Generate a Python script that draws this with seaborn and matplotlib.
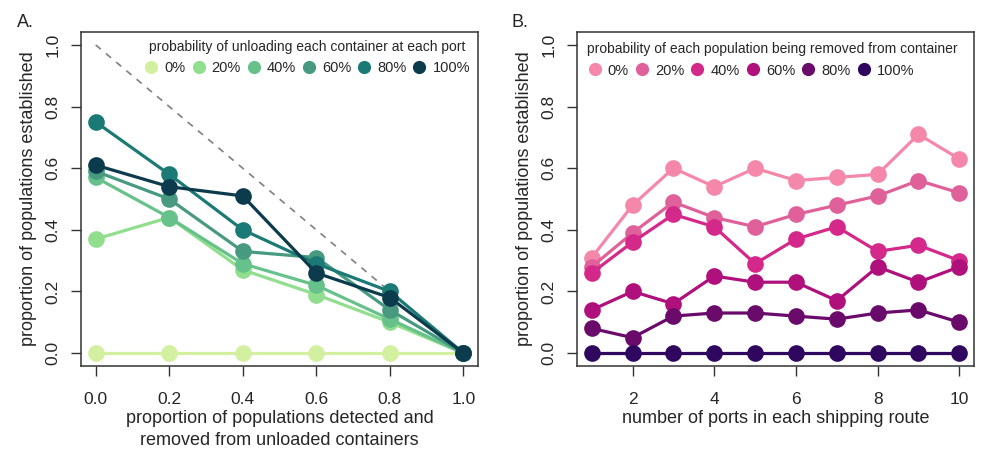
import numpy as np
import pandas as pd
import matplotlib
matplotlib.use("Agg")
import matplotlib.pyplot as plt
from matplotlib.lines import Line2D
import seaborn as sns

# ---- data ----
detect_x = [0.0, 0.2, 0.4, 0.6, 0.8, 1.0]
unload_labels = ["0%", "20%", "40%", "60%", "80%", "100%"]
unload_0 = [0.0, 0.0, 0.0, 0.0, 0.0, 0.0]
unload_20 = [0.37, 0.44, 0.27, 0.19, 0.10, 0.0]
unload_40 = [0.57, 0.44, 0.29, 0.22, 0.11, 0.0]
unload_60 = [0.59, 0.50, 0.33, 0.31, 0.14, 0.0]
unload_80 = [0.75, 0.58, 0.40, 0.29, 0.20, 0.0]
unload_100 = [0.61, 0.54, 0.51, 0.26, 0.18, 0.0]
unload_colors = ["#d2f0a0", "#90de8e", "#66c28a", "#479a80", "#1b7a75", "#0c3b4d"]

ports_x = [1, 2, 3, 4, 5, 6, 7, 8, 9, 10]
removed_labels = ["0%", "20%", "40%", "60%", "80%", "100%"]
removed_0 = [0.31, 0.48, 0.60, 0.54, 0.60, 0.56, 0.57, 0.58, 0.71, 0.63]
removed_20 = [0.28, 0.39, 0.49, 0.44, 0.41, 0.45, 0.48, 0.51, 0.56, 0.52]
removed_40 = [0.26, 0.36, 0.45, 0.41, 0.29, 0.37, 0.41, 0.33, 0.35, 0.30]
removed_60 = [0.14, 0.20, 0.16, 0.25, 0.23, 0.23, 0.17, 0.28, 0.23, 0.28]
removed_80 = [0.08, 0.05, 0.12, 0.13, 0.13, 0.12, 0.11, 0.13, 0.14, 0.10]
removed_100 = [0.0, 0.0, 0.0, 0.0, 0.0, 0.0, 0.0, 0.0, 0.0, 0.0]
removed_colors = ["#f588aa", "#e0609a", "#d4288a", "#b0107c", "#6a0a6a", "#30075e"]


def long_df(x, series, labels):
    rows = []
    for lab, vals in zip(labels, series):
        for xi, yi in zip(x, vals):
            rows.append({"x": xi, "y": yi, "group": lab})
    return pd.DataFrame(rows)


df_a = long_df(detect_x, [unload_0, unload_20, unload_40, unload_60, unload_80, unload_100], unload_labels)
df_b = long_df(ports_x, [removed_0, removed_20, removed_40, removed_60, removed_80, removed_100], removed_labels)

sns.set_style("ticks")
plt.rcParams["font.family"] = ["Liberation Sans", "DejaVu Sans"]

fig = plt.figure(figsize=(9.82, 4.55), dpi=100)
ax_a = fig.add_axes([0.0825, 0.1956, 0.4043, 0.734])
ax_b = fig.add_axes([0.5876, 0.1956, 0.4043, 0.734])

# diagonal reference line (drawn below the data)
ax_a.plot([0, 1], [1, 0], color="#808080", ls=(0, (4, 4)), lw=1.2, zorder=1)

line_kw = dict(marker="o", markersize=12, markeredgewidth=0, linewidth=2.3, legend=False)
sns.lineplot(data=df_a, x="x", y="y", hue="group", hue_order=unload_labels,
             palette=unload_colors, ax=ax_a, **line_kw)
sns.lineplot(data=df_b, x="x", y="y", hue="group", hue_order=removed_labels,
             palette=removed_colors, ax=ax_b, **line_kw)

for ax in (ax_a, ax_b):
    ax.set_ylim(-0.042, 1.042)
    ax.set_yticks([0.0, 0.2, 0.4, 0.6, 0.8, 1.0])
    ax.set_yticklabels(["0.0", "0.2", "0.4", "0.6", "0.8", "1.0"], rotation=90, va="center")
    ax.set_ylabel("proportion of populations established", fontsize=13, labelpad=6)
    ax.tick_params(axis="both", labelsize=12.5, length=7, width=1, color="#333333")
    ax.tick_params(axis="y", pad=8)
    ax.tick_params(axis="x", pad=12)
    for s in ax.spines.values():
        s.set_linewidth(1.1)
        s.set_color("#333333")
        s.set_visible(True)

ax_a.set_xlim(-0.04, 1.04)
ax_a.set_xticks(detect_x)
ax_a.set_xticklabels(["0.0", "0.2", "0.4", "0.6", "0.8", "1.0"])
ax_a.set_xlabel("proportion of populations detected and\nremoved from unloaded containers",
                fontsize=13, labelpad=2, linespacing=1.35)

ax_b.set_xlim(0.64, 10.36)
ax_b.set_xticks([2, 4, 6, 8, 10])
ax_b.set_xlabel("number of ports in each shipping route", fontsize=13, labelpad=2)

# legends with circle markers only
handles_a = [Line2D([], [], ls="none", marker="o", markersize=9.5, markeredgewidth=0, color=c)
             for c in unload_colors]
leg_a = ax_a.legend(handles_a, unload_labels, title="probability of unloading each container at each port",
                    ncol=6, loc="upper right", bbox_to_anchor=(1.0, 1.0), frameon=False,
                    fontsize=10.5, title_fontsize=10, handlelength=1.0, handletextpad=0.4,
                    columnspacing=0.38, borderaxespad=0.15)

handles_b = [Line2D([], [], ls="none", marker="o", markersize=9.5, markeredgewidth=0, color=c)
             for c in removed_colors]
leg_b = ax_b.legend(handles_b, removed_labels, title="probability of each population being removed from container",
                    ncol=6, loc="upper left", bbox_to_anchor=(0.0, 1.0), frameon=False,
                    fontsize=10.5, title_fontsize=10, handlelength=1.0, handletextpad=0.4,
                    columnspacing=0.4, borderaxespad=0.3, alignment="left")

fig.text(0.017, 0.94, "A.", fontsize=13)
fig.text(0.521, 0.94, "B.", fontsize=13)

fig.savefig("out.png", dpi=100)
